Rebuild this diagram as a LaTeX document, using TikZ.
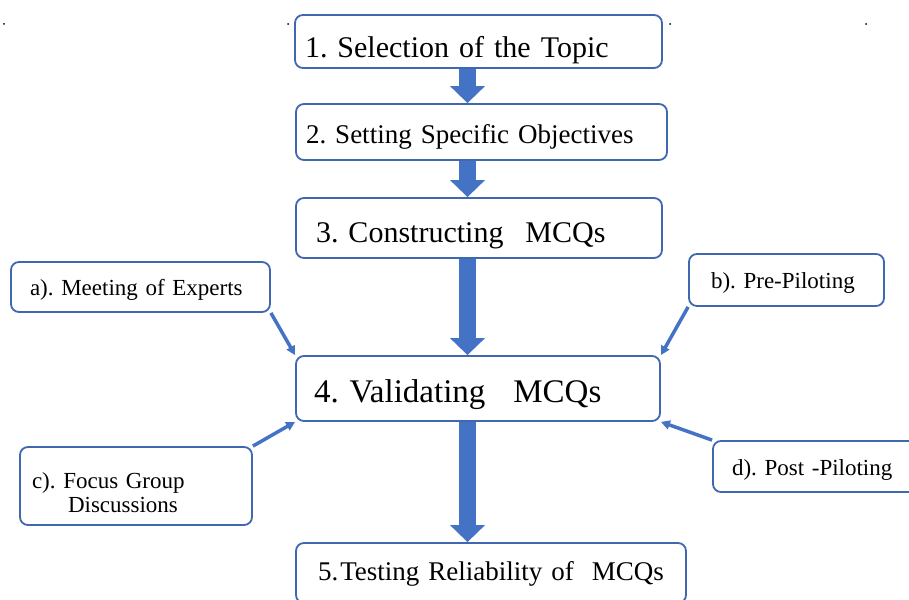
\documentclass[tikz,border=0pt]{standalone}
\usepackage{fontspec}
\setmainfont{Liberation Serif}
\usepackage{xcolor}
\definecolor{flowline}{HTML}{3F68B0}
\definecolor{flowfill}{HTML}{4472C4}
\usepackage{tikz}
\usetikzlibrary{arrows.meta,positioning,calc}
\tikzset{
  stagebox/.style ={rectangle, rounded corners=8pt, draw=flowline, fill=white,
                    line width=1.8pt, align=left, inner ysep=0pt, text=black, text depth=8pt},
  sidebox/.style  ={stagebox, font=\fontsize{23}{24}\selectfont},
  flowarrow/.style={-{Triangle[length=17pt,width=34pt]}, line width=17pt, draw=flowfill},
  feedarrow/.style={-{Triangle[length=9pt,width=9pt]}, line width=3.5pt, draw=flowfill},
}

\begin{document}
\frenchspacing
\begin{tikzpicture}[x=1pt,y=-1pt]
  \useasboundingbox (0,0) rectangle (909,599);
  \foreach \x in {4,288,670,866}
    \fill[black] (\x,24) circle (1pt);
  \coordinate (axis) at (467.5,0);

  \node[stagebox, text width=347pt, inner xsep=10pt, minimum height=53pt, text height=41pt,
        font=\fontsize{30}{36}\selectfont] (sel) at (478.5,41.5) {1. Selection of the Topic};
  \node[stagebox, text width=351pt, inner xsep=10pt, minimum height=56pt, text height=30pt,
        font=\fontsize{27}{32}\selectfont] (obj) at (481.5,132) {2. Setting Specific Objectives};
  \node[stagebox, text width=326pt, inner xsep=20pt, minimum height=60pt, text height=36pt,
        font=\fontsize{30}{36}\selectfont] (mcq) at (479,228) {3. Constructing\hspace{22pt}MCQs};
  \node[stagebox, text width=328pt, inner xsep=18pt, minimum height=65pt, text height=35pt,
        font=\fontsize{33}{40}\selectfont] (val) at (478,388.5) {4. Validating\hspace{28pt}MCQs};
  \node[stagebox, text width=346pt, inner xsep=22pt, minimum height=60pt, text height=22pt,
        font=\fontsize{27}{32}\selectfont] (rel) at (491,573) {5.\hspace{2pt}Testing Reliability of\hspace{18pt}MCQs};

  \node[sidebox, text width=221pt, inner xsep=19pt, minimum height=50pt, text height=24pt] (exp) at (140.5,287) {a). Meeting of Experts};
  \node[sidebox, text width=151pt, inner xsep=22pt, minimum height=52pt, text height=24pt] (pre) at (786.5,280) {b). Pre-Piloting};
  \node[sidebox, text width=208pt, inner xsep=12pt, minimum height=78pt, text height=36pt, text depth=32pt] (fgd) at (136,486)
    {c). Focus Group\\\hspace*{36pt}Discussions};
  \node[sidebox, text width=180pt, inner xsep=19pt, minimum height=51pt, text height=25pt] (post) at (822,466.5) {d). Post -Piloting};

  \draw[flowarrow] (sel.south -| axis) -- (obj.north -| axis);
  \draw[flowarrow] (obj.south -| axis) -- (mcq.north -| axis);
  \draw[flowarrow] (mcq.south -| axis) -- (val.north -| axis);
  \draw[flowarrow] (val.south -| axis) -- (rel.north -| axis);

  \draw[feedarrow] (exp.south east) -- (val.north west);
  \draw[feedarrow] (pre.south west) -- (val.north east);
  \draw[feedarrow] (fgd.north east) -- (val.south west);
  \draw[feedarrow] (post.north west) -- (val.south east);
\end{tikzpicture}
\end{document}
